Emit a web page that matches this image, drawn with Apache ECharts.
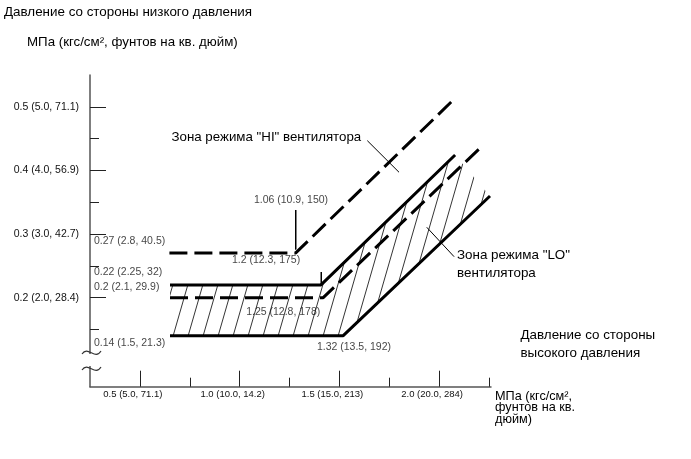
<!DOCTYPE html>
<html>
<head>
<meta charset="utf-8">
<script src="https://cdn.jsdelivr.net/npm/echarts@6/dist/echarts.min.js"></script>
<style>html,body{margin:0;padding:0;background:#fff}#c{width:691px;height:459px}</style>
</head>
<body>
<div id="c"></div>
<script>
// ---- data ----
const xMajor = [0.5, 1.0, 1.5, 2.0];
const xLabels = ['0.5 (5.0, 71.1)', '1.0 (10.0, 14.2)', '1.5 (15.0, 213)', '2.0 (20.0, 284)'];
const xMinor = [0.75, 1.25, 1.75, 2.25];
const yMajor = [0.2, 0.3, 0.4, 0.5];
const yLabels = ['0.2 (2.0, 28.4)', '0.3 (3.0, 42.7)', '0.4 (4.0, 56.9)', '0.5 (5.0, 71.1)'];
const yMinor = [0.15, 0.25, 0.35, 0.45];

// boundary lines [high-side MPa, low-side MPa]
const hiUpper = [[0.648, 0.27], [1.280, 0.27], [2.08, 0.5135]];   // dashed
const loUpper = [[0.651, 0.22], [1.408, 0.22], [2.08, 0.4243]];   // solid
const hiLower = [[0.651, 0.20], [1.419, 0.20], [2.213, 0.4374]];  // dashed
const loLower = [[0.651, 0.14], [1.518, 0.14], [2.255, 0.3598]];  // solid

// LO zone (hatched) outline
const loZone = [[0.651, 0.22], [1.408, 0.22], [2.08, 0.4243], [2.255, 0.3598], [1.518, 0.14], [0.651, 0.14]];

// value annotations [x, y, text]
const leftNotes = [[0.25, 0.27, '0.27 (2.8, 40.5)'], [0.25, 0.22, '0.22 (2.25, 32)'], [0.25, 0.20, '0.2 (2.1, 29.9)'], [0.25, 0.14, '0.14 (1.5, 21.3)']];
const bendNotes = [[1.280, 0.27, '1.06 (10.9, 150)'], [1.408, 0.22, '1.2 (12.3, 175)'], [1.419, 0.20, '1.25 (12.8, 178)'], [1.518, 0.14, '1.32 (13.5, 192)']];
// leader lines [x1, y1, x2, y2] (in axis units)
const leaders = [
  [1.2805, 0.2755, 1.2805, 0.3378],
  [1.4085, 0.2215, 1.4085, 0.2403],
  [1.640, 0.4468, 1.799, 0.3971],
  [1.938, 0.3106, 2.075, 0.2644]
];

// ---- styles ----
const leftOffsets = [[4, -11.7], [4, -12.5], [4, -10.7], [4, 7.6]];
const bendOffsets = [[-4.5, -53.4], [-55, -25], [-40, 14], [11, 11]];
const FONT = 'Liberation Sans, Arial, sans-serif';

function pick(arr, vals, v) {
  for (let i = 0; i < vals.length; i++) if (Math.abs(vals[i] - v) < 1e-6) return arr[i];
  return '';
}

// hatch pattern
const W = 15, H = 52;
const pc = document.createElement('canvas');
pc.width = W; pc.height = H;
const g = pc.getContext('2d');
g.strokeStyle = '#000'; g.lineWidth = 0.8;
for (let k = -1; k <= 1; k++) {
  g.beginPath(); g.moveTo(k * W, H); g.lineTo((k + 1) * W, 0); g.stroke();
}

const chart = echarts.init(document.getElementById('c'), null, {renderer: 'canvas'});

function lineSeries(data, dashed) {
  return {
    type: 'line', data: data, symbol: 'none', silent: true, z: 5,
    lineStyle: {color: '#000', width: 3, type: dashed ? [18, 7] : 'solid', cap: 'butt'},
    animation: false
  };
}

const textStyle = (t, x, y, size, extra) => ({
  type: 'text', x: x, y: y, z: 20,
  style: Object.assign({text: t, font: size + 'px ' + FONT, fill: '#000', verticalAlign: 'middle', align: 'left'}, extra || {})
});

const graphics = [
  textStyle('Давление со стороны низкого давления', 4, 12, 13.4),
  textStyle('МПа (кгс/см², фунтов на кв. дюйм)', 27, 42, 13.3),
  textStyle('Зона режима "HI" вентилятора', 171.5, 137, 13.3),
  textStyle('Зона режима "LO"', 457, 255, 13.4),
  textStyle('вентилятора', 457, 273, 13.4),
  textStyle('Давление со стороны', 520.5, 335, 13.4),
  textStyle('высокого давления', 520.5, 353, 13.4),
  textStyle('МПа (кгс/см²,', 495, 396, 12.7),
  textStyle('фунтов на кв.', 495, 407.5, 12.7),
  textStyle('дюйм)', 495, 419, 12.7),
  {type: 'rect', z: 15, shape: {x: 88, y: 354, width: 6, height: 12}, style: {fill: '#fff'}},
  {type: 'bezierCurve', z: 16, shape: {x1: 82, y1: 354, cpx1: 88, cpy1: 345, cpx2: 95, cpy2: 361, x2: 101, y2: 351},
   style: {stroke: '#333', lineWidth: 1.2, fill: null}},
  {type: 'bezierCurve', z: 16, shape: {x1: 82, y1: 370, cpx1: 88, cpy1: 361, cpx2: 95, cpy2: 377, x2: 101, y2: 367},
   style: {stroke: '#333', lineWidth: 1.2, fill: null}}
];

const verticalLeaders = leaders.filter(l => l[0] === l[2]);

chart.setOption({
  animation: false,
  grid: {left: 90, right: 200, top: 75, bottom: 72.3, containLabel: false},
  xAxis: [
    {type: 'value', min: 0.25, max: 2.26,
     axisLine: {show: true, lineStyle: {color: '#555', width: 1.5}},
     axisTick: {show: true, inside: true, length: 16, customValues: xMajor, lineStyle: {color: '#222', width: 1}},
     axisLabel: {show: true, customValues: xMajor, margin: 2.5, padding: [0, 14, 0, 0],
       fontSize: 9.5, fontFamily: FONT, color: '#111', formatter: v => pick(xLabels, xMajor, v)},
     splitLine: {show: false}},
    {type: 'value', min: 0.25, max: 2.26, position: 'bottom',
     axisLine: {show: false},
     axisTick: {show: true, inside: true, length: 9, customValues: xMinor, lineStyle: {color: '#222', width: 1}},
     axisLabel: {show: false}, splitLine: {show: false}}
  ],
  yAxis: [
    {type: 'value', min: 0.06, max: 0.55, position: 'left',
     axisLine: {show: true, lineStyle: {color: '#555', width: 1.5}},
     axisTick: {show: true, inside: true, length: 16, customValues: yMajor, lineStyle: {color: '#222', width: 1}},
     axisLabel: {show: true, customValues: yMajor, margin: 11, fontSize: 10.5, fontFamily: FONT, color: '#111',
       formatter: v => pick(yLabels, yMajor, v)},
     splitLine: {show: false}},
    {type: 'value', min: 0.06, max: 0.55, position: 'left',
     axisLine: {show: false},
     axisTick: {show: true, inside: true, length: 9, customValues: yMinor, lineStyle: {color: '#222', width: 1}},
     axisLabel: {show: false}, splitLine: {show: false}}
  ],
  series: [
    {type: 'custom', silent: true, z: 2, data: [[1, 0.2]],
     renderItem: function (params, api) {
       const pts = loZone.map(p => api.coord(p));
       return {type: 'polygon', shape: {points: pts}, style: {fill: {image: pc, repeat: 'repeat'}, stroke: null}};
     }},
    lineSeries(hiUpper, true),
    lineSeries(loUpper, false),
    lineSeries(hiLower, true),
    Object.assign(lineSeries(loLower, false), {
      markLine: {silent: true, symbol: 'none', animation: false, label: {show: false},
        lineStyle: {color: '#000', width: 1, type: 'solid'},
        emphasis: {disabled: true},
        data: verticalLeaders.map(l => [{coord: [l[0], l[1]]}, {coord: [l[2], l[3]]}])}
    }),
    {type: 'scatter', symbolSize: 0.1, silent: true, z: 10,
     data: leftNotes.map((d, i) => ({value: [d[0], d[1]], name: d[2],
       label: {show: true, position: 'inside', align: 'left', verticalAlign: 'middle', offset: leftOffsets[i],
         formatter: d[2], fontSize: 10.5, fontFamily: FONT, color: '#111'}}))},
    {type: 'scatter', symbolSize: 0.1, silent: true, z: 10,
     data: bendNotes.map((d, i) => ({value: [d[0], d[1]], name: d[2],
       label: {show: true, position: 'inside', align: 'center', verticalAlign: 'middle', offset: bendOffsets[i],
         formatter: d[2], fontSize: 10.5, fontFamily: FONT, color: '#111'}}))}
  ]
});

// leader lines, placed through the chart's own axis scales
leaders.forEach(l => {
  const a = chart.convertToPixel({xAxisIndex: 0, yAxisIndex: 0}, [l[0], l[1]]);
  const b = chart.convertToPixel({xAxisIndex: 0, yAxisIndex: 0}, [l[2], l[3]]);
  if (Math.abs(a[0] - b[0]) < 0.5) {
    const top = Math.min(a[1], b[1]), h = Math.abs(a[1] - b[1]);
    graphics.push({type: 'rect', z: 100, shape: {x: Math.round(a[0]) - 0.5, y: top, width: 1, height: h},
      style: {fill: '#000', stroke: null}});
  } else {
    graphics.push({type: 'line', z: 100, shape: {x1: a[0], y1: a[1], x2: b[0], y2: b[1]},
      style: {stroke: '#000', lineWidth: 1}});
  }
});
chart.setOption({graphic: graphics});
</script>
</body>
</html>
